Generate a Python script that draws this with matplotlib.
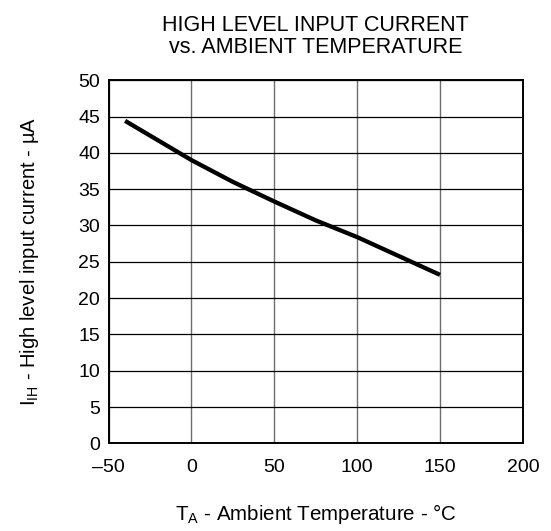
import matplotlib
matplotlib.use('Agg')
import matplotlib.pyplot as plt

plt.rcParams['font.family'] = ['Liberation Sans', 'DejaVu Sans']
plt.rcParams['mathtext.default'] = 'regular'

# ambient temperature (degC) and high level input current (uA)
temp_c = [-40, 0, 25, 50, 75, 100, 125, 150]
i_ih_ua = [44.4, 39.0, 36.0, 33.3, 30.7, 28.4, 25.8, 23.2]

x_ticks = [-50, 0, 50, 100, 150, 200]
x_tick_labels = ['\u201350', '0', '50', '100', '150', '200']
y_ticks = list(range(0, 55, 5))

fig = plt.figure(figsize=(5.51, 5.31), dpi=100)
ax = fig.add_axes([0.197, 0.165, 0.752, 0.684])

ax.plot(temp_c, i_ih_ua, color='black', linewidth=3.1, solid_capstyle='butt', zorder=3)

ax.set_xlim(-50, 200)
ax.set_ylim(0, 50)
ax.set_xticks(x_ticks)
ax.set_xticklabels(x_tick_labels)
ax.set_yticks(y_ticks)
ax.tick_params(length=0, labelsize=14)
ax.tick_params(axis='x', pad=11)
ax.tick_params(axis='y', pad=6)

# vertical grid in grey, horizontal grid in black
ax.xaxis.grid(True, color='#6e6e6e', linewidth=1.0)
ax.yaxis.grid(True, color='black', linewidth=0.9)
ax.set_axisbelow(True)
for s in ax.spines.values():
    s.set_linewidth(1.4)

ax.set_xlabel('T$_{A}$ - Ambient Temperature - \u00b0C', fontsize=14.8, labelpad=19)
ax.set_ylabel('I$_{IH}$ - High level input current - \u00b5A', fontsize=14.5, labelpad=27)

fig.text(0.573, 0.972, 'HIGH LEVEL INPUT CURRENT\nvs. AMBIENT TEMPERATURE',
         ha='center', va='top', fontsize=15.5, linespacing=1.1)

fig.savefig('out.png', dpi=100)
